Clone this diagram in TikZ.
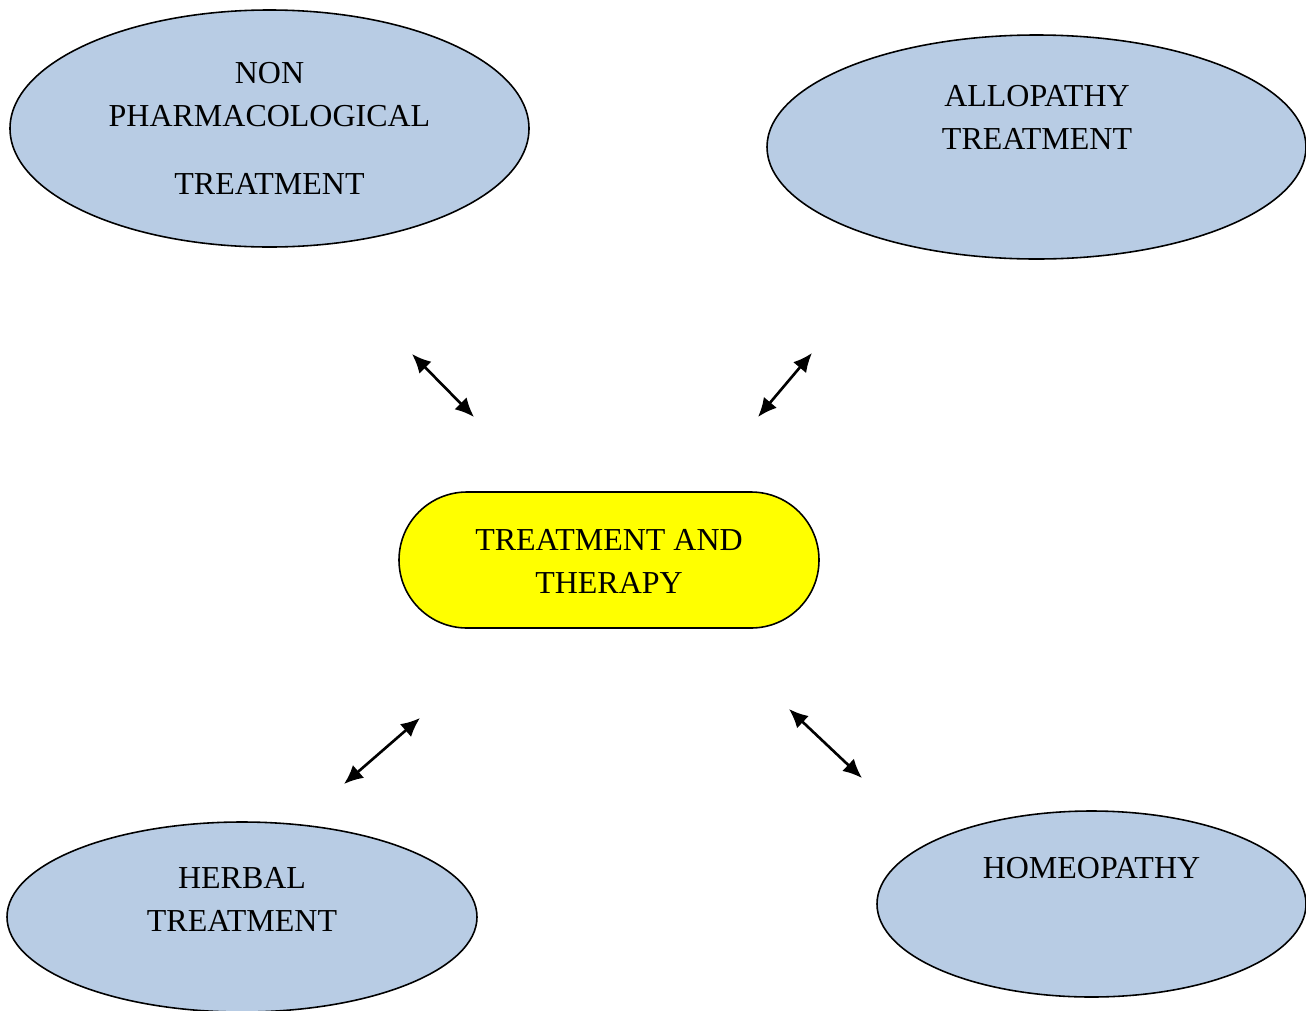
\documentclass[tikz,border=0pt]{standalone}
\usepackage{fontspec}
\setmainfont{Liberation Serif}
\usepackage{tikz}
\usetikzlibrary{shapes.geometric,arrows.meta}
\definecolor{bubblebg}{HTML}{B8CCE4}
\definecolor{hubfill}{HTML}{FFFF00}

\begin{document}
\begin{tikzpicture}[
            >={Latex[length=0.38cm,width=0.34cm]}, % arrow head style
            bubble/.style={shape=ellipse,draw=black,fill=bubblebg,line width=0.9pt,inner sep=0pt},
            txt/.style={align=center,font=\fontsize{18.2}{24.4}\selectfont},
            link/.style={<->,line width=1.5pt}
        ]
\useasboundingbox (0,0) rectangle (26.12,-20.2);

\node[bubble,minimum width=10.38cm,minimum height=4.74cm] (nonpharm) at (5.39,-2.57) {};
\node[bubble,minimum width=10.78cm,minimum height=4.48cm] (allo) at (20.73,-2.94) {};
\node[bubble,minimum width=9.40cm,minimum height=3.80cm] (herbal) at (4.84,-18.34) {};
\node[bubble,minimum width=8.58cm,minimum height=3.72cm] (homeo) at (21.83,-18.08) {};
\node[draw=black,fill=hubfill,line width=0.9pt,rounded corners=1.36cm,minimum width=8.4cm,minimum height=2.72cm] (treat) at (12.18,-11.2) {};

\node[txt] (nonpharmtxt) at (5.39,-2.57) {NON\\PHARMACOLOGICAL\\[0.52cm]TREATMENT};
\node[txt] (allotxt) at (20.74,-2.35) {ALLOPATHY\\TREATMENT};
\node[txt] (herbaltxt) at (4.84,-17.98) {HERBAL\\TREATMENT};
\node[txt] (homeotxt) at (21.83,-17.36) {HOMEOPATHY};
\node[txt] (treattxt) at (12.18,-11.22) {TREATMENT AND\\THERAPY};

% free ends of the arrows
\coordinate (a1) at (8.24,-7.08);
\coordinate (b1) at (9.48,-8.34);
\coordinate (a2) at (16.24,-7.06);
\coordinate (b2) at (15.16,-8.34);
\coordinate (a3) at (8.40,-14.36);
\coordinate (b3) at (6.88,-15.68);
\coordinate (a4) at (15.78,-14.18);
\coordinate (b4) at (17.24,-15.56);

 \path [link] (a1) edge (b1);
 \path [link] (a2) edge (b2);
 \path [link] (a3) edge (b3);
 \path [link] (a4) edge (b4);

\end{tikzpicture}
\end{document}
